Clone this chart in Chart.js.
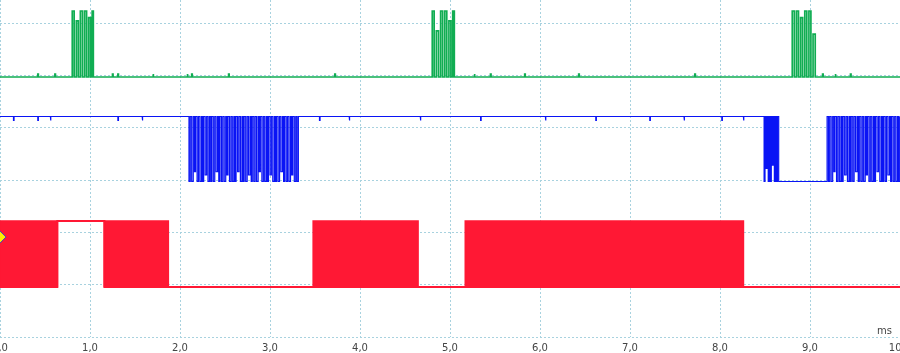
<!DOCTYPE html>
<html>
<head>
<meta charset="utf-8">
<script src="https://cdn.jsdelivr.net/npm/chart.js@4.4.1/dist/chart.umd.min.js"></script>
<style>
html,body{margin:0;padding:0;background:#fff;}
#wrap{width:900px;height:353px;position:relative;}
</style>
</head>
<body>
<div id="wrap"><canvas id="c"></canvas></div>
<script>
// ---- time axis (ms) ----
const tickValues = [0,1,2,3,4,5,6,7,8,9,10];
const tickLabels = ['0,0','1,0','2,0','3,0','4,0','5,0','6,0','7,0','8,0','9,0','10,0'];
const unitLabel = 'ms';

// ---- levels (grid units) ----
const greenLow = 4.969, greenHigh = 6.230;
const blueLow = 2.972, blueHigh = 4.214;
const redLow = 0.955, redHigh = 2.217;

// ---- green channel: high pulses [start, end, fraction of swing] (idle low) ----
const greenPulses = [
  [0.803,0.824,1],[0.848,0.870,0.85],[0.893,0.916,1],[0.940,0.962,1],[0.985,1.006,0.9],[1.024,1.037,1],
  [4.803,4.824,1],[4.848,4.872,0.7],[4.896,4.918,1],[4.942,4.964,1],[4.988,5.010,0.85],[5.030,5.048,1],
  [8.803,8.826,1],[8.850,8.872,1],[8.896,8.918,0.9],[8.942,8.964,1],[8.988,9.010,1],[9.034,9.058,0.65]
];
const greenGlitches = [0.42,0.61,1.25,1.31,1.70,2.08,2.13,2.54,3.72,5.27,5.45,5.83,6.43,7.72,9.14,9.28,9.45];

// ---- blue channel: low pulses [start, end, fraction of swing] (idle high) ----
const bluePulses = [
  [2.100,2.114,1],[2.130,2.147,1],[2.161,2.173,0.85],[2.190,2.205,1],[2.221,2.238,1],[2.251,2.263,1],[2.280,2.296,0.9],[2.311,2.327,1],
  [2.341,2.353,1],[2.370,2.386,1],[2.401,2.418,0.85],[2.431,2.443,1],[2.460,2.475,1],[2.491,2.508,1],[2.521,2.533,0.9],[2.550,2.566,1],
  [2.581,2.598,1],[2.611,2.623,1],[2.640,2.655,0.85],[2.671,2.688,1],[2.701,2.713,1],[2.730,2.746,1],[2.761,2.778,0.9],[2.791,2.803,1],
  [2.820,2.835,1],[2.851,2.868,1],[2.881,2.893,0.85],[2.910,2.926,1],[2.941,2.958,1],[2.971,2.983,1],[3.000,3.015,0.9],[3.031,3.048,1],
  [3.061,3.073,1],[3.090,3.106,1],[3.121,3.138,0.85],[3.151,3.163,1],[3.180,3.195,1],[3.211,3.228,1],[3.241,3.253,0.9],[3.270,3.286,1],
  [3.300,3.315,1],
  [8.490,8.500,1],[8.512,8.524,0.8],[8.536,8.546,1],[8.558,8.570,1],[8.582,8.592,0.75],[8.604,8.616,1],[8.628,8.638,1],[8.652,9.190,1],
  [9.205,9.219,1],[9.235,9.252,1],[9.266,9.278,0.85],[9.295,9.310,1],[9.326,9.343,1],[9.356,9.368,1],[9.385,9.401,0.9],[9.416,9.433,1],
  [9.446,9.458,1],[9.475,9.490,1],[9.506,9.523,0.85],[9.536,9.548,1],[9.565,9.581,1],[9.596,9.613,1],[9.626,9.638,0.9],[9.655,9.670,1],
  [9.686,9.703,1],[9.716,9.728,1],[9.745,9.761,0.85],[9.776,9.793,1],[9.806,9.818,1],[9.835,9.850,1],[9.866,9.883,0.9],[9.896,9.908,1],
  [9.925,9.941,1],[9.956,9.973,1],[9.986,10.0,1]
];
const blueGlitches = [0.15,0.42,0.56,1.31,1.58,3.55,3.88,4.67,5.34,6.06,6.62,7.22,7.60,8.02,8.26];

// ---- red channel ----
const redHighSpans = [[0.637,1.160]];
const redBursts = [[0.000,0.637],[1.160,1.870],[3.480,4.645],[5.170,8.260]];

// ---- trigger marker ----
const triggerPoint = {x:0, y:1.91};

// ---- colours ----
const cGreen = '#10ad52', cBlue = '#0a14f5', cRed = '#ff1834';
const cGrid = '#a8d2df';

function buildTrace(base, other, pulses, glitches, gFrac){
  const ev = pulses.map(p => [p[0], p[1], p[2]]);
  (glitches||[]).forEach(t => ev.push([t, t+0.006, gFrac]));
  ev.sort((a,b)=>a[0]-b[0]);
  const pts = [{x:0, y:base}];
  ev.forEach(([t0,t1,f]) => {
    const lvl = base + f*(other-base);
    pts.push({x:t0,y:base},{x:t0,y:lvl},{x:t1,y:lvl},{x:t1,y:base});
  });
  pts.push({x:10, y:base});
  return pts;
}

const greenData = buildTrace(greenLow, greenHigh, greenPulses, greenGlitches, 0.045);
const blueData = buildTrace(blueHigh, blueLow, bluePulses, blueGlitches, 0.06);
const redData = buildTrace(redLow, redHigh, redHighSpans.map(s=>[s[0],s[1],1]), [], 0);

const lineBase = {type:'line', pointRadius:0, tension:0, fill:false, borderCapStyle:'butt', borderJoinStyle:'miter'};

const datasets = [
  {type:'scatter', data:[triggerPoint], pointStyle:'rectRot', pointRadius:6, pointHoverRadius:6,
   backgroundColor:'#ffef00', borderColor:'#3c4cc0', borderWidth:1, clip:false},
  Object.assign({}, lineBase, {data:greenData, borderColor:cGreen, borderWidth:1.7}),
  Object.assign({}, lineBase, {data:blueData, borderColor:cBlue, borderWidth:1.2}),
  Object.assign({}, lineBase, {data:redData, borderColor:cRed, borderWidth:2})
];
redBursts.forEach(([t0,t1]) => {
  datasets.push(Object.assign({}, lineBase, {
    data:[{x:t0,y:redLow},{x:t0,y:redHigh},{x:t1,y:redHigh},{x:t1,y:redLow}],
    borderColor:cRed, backgroundColor:cRed, borderWidth:1.6, fill:{value:redLow}
  }));
});

const unitPlugin = {
  id:'unitLabel',
  afterDraw(chart){
    const {ctx, chartArea} = chart;
    ctx.save();
    ctx.font = '10px "DejaVu Sans"';
    ctx.fillStyle = '#444';
    ctx.textAlign = 'right';
    ctx.textBaseline = 'bottom';
    ctx.fillText(unitLabel, chartArea.right - 8, chartArea.bottom - 1);
    ctx.restore();
  }
};

new Chart(document.getElementById('c'), {
  data:{datasets},
  options:{
    responsive:true, maintainAspectRatio:false, animation:false,
    layout:{padding:0, autoPadding:false},
    plugins:{legend:{display:false}, tooltip:{enabled:false}},
    events:[],
    scales:{
      x:{type:'linear', min:0, max:10,
        afterFit(s){ s.paddingLeft = 0; s.paddingRight = 0; s.height = 16; },
        afterBuildTicks(s){ s.ticks = tickValues.map(v=>({value:v})); },
        grid:{color:cGrid, lineWidth:1, drawTicks:false},
        border:{display:false, dash:[2,2]},
        ticks:{padding:5, color:'#444', font:{family:'DejaVu Sans', size:10}, maxRotation:0, autoSkip:false,
          callback:(v,i)=>tickLabels[i]}
      },
      y:{type:'linear', min:0, max:6.44,
        afterBuildTicks(s){ s.ticks = [0,1,2,3,4,5,6].map(v=>({value:v})); },
        grid:{color:cGrid, lineWidth:1, drawTicks:false},
        border:{display:false, dash:[2,2]},
        ticks:{display:false}
      }
    }
  },
  plugins:[unitPlugin]
});
</script>
</body>
</html>
